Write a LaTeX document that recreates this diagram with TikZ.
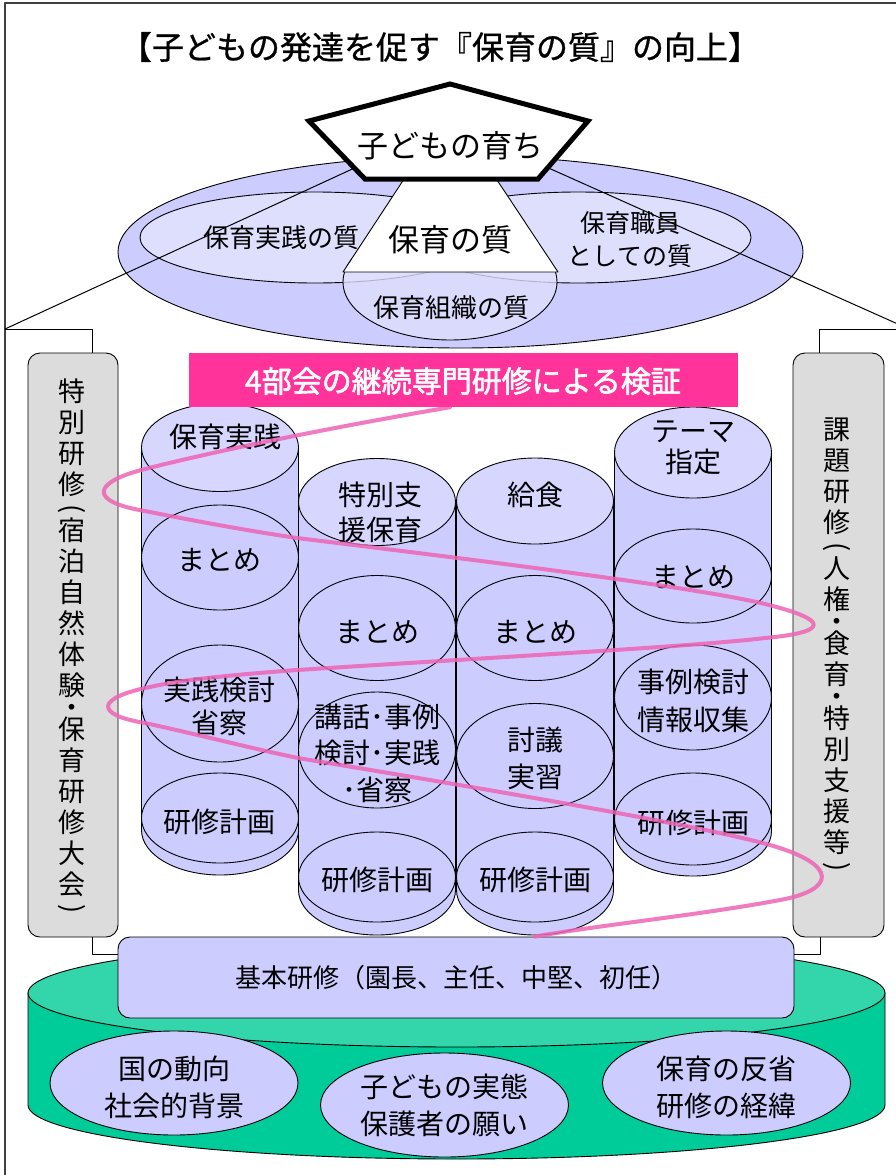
\documentclass[tikz,border=0pt]{standalone}
\usepackage{fontspec}
\usepackage{graphicx}
\setmainfont{Noto Sans CJK JP}
\newfontfamily\jpbold{Noto Sans CJK JP}[FakeBold=2]
\newfontfamily\jpmed{Noto Sans CJK JP}[FakeBold=0.8]
\usetikzlibrary{shapes.geometric}
\definecolor{lav}{HTML}{CCCCFF}
\definecolor{lavtop}{HTML}{D6D6FF}
\definecolor{lavlight}{HTML}{DEDEFD}
\definecolor{sidegray}{HTML}{DCDCDC}
\definecolor{greentop}{HTML}{33D6AA}
\definecolor{greenside}{HTML}{00CC99}
\definecolor{bandpink}{HTML}{FF3399}
\definecolor{linepink}{HTML}{EE64B4}
\newcommand\cylbody[3]{\path[outl,fill=lav] ({#1-78.5},#2) -- ({#1-78.5},#3) arc[start angle=180,end angle=360,x radius=78.5pt,y radius=45pt] -- ({#1+78.5},#2) -- cycle;}
\newcommand\vop{\rotatebox[origin=c]{-90}{(}}
\newcommand\vcl{\rotatebox[origin=c]{-90}{)}}
\begin{document}
\begin{tikzpicture}[x=1pt,y=-1pt,line join=round,
  outl/.style={draw=black,line width=0.9pt},
  ell/.style={ellipse,inner sep=0pt,outl},
  cyltop/.style={ell,fill=lavtop,minimum width=157pt},
  cylin/.style={ell,fill=lav,minimum width=157pt},
  ctext/.style={inner sep=0pt,align=center,font=\fontsize{28}{35}\selectfont},
  sidebox/.style={outl,fill=sidegray,rounded corners=12pt,inner sep=0pt,minimum height=584pt},
  conn/.style={draw=black,line width=1pt},
  vtext/.style={inner sep=0pt,align=center,font=\fontsize{27}{31}\selectfont},
  spiral/.style={draw=linepink,line width=4pt,line cap=round,draw opacity=0.85},
  ttext/.style={inner sep=0pt,align=center}
]
\useasboundingbox (0,0) rectangle (896,1175);
\fill[white] (0,0) rectangle (896,1175);
\draw[line width=1.2pt,black!75] (5,1180) -- (5,3) -- (900,3);

% title
\node[ttext,font=\jpmed\fontsize{32}{32}\selectfont] (title) at (440,47) {【子どもの発達を促す『保育の質』の向上】};

% quality ellipses
\node[ell,fill=lav,minimum width=685pt,minimum height=192pt] (outer) at (460.5,252) {};
\node[ell,fill=lavlight,minimum width=350pt,minimum height=91pt] (pract) at (315,237.5) {};
\node[ell,fill=lavlight,minimum width=346pt,minimum height=91pt] (staff) at (578,237.5) {};
\node[ell,fill=lavlight,fill opacity=0.8,minimum width=214pt,minimum height=116pt] (org) at (450,282) {};
\node[ttext,font=\fontsize{26}{26}\selectfont] (practt) at (281,238) {保育実践の質};
\node[ttext,font=\fontsize{25}{33}\selectfont] (stafft) at (630,240) {保育職員\\としての質};
\node[ttext,font=\fontsize{26}{26}\selectfont] (orgt) at (451,308) {保育組織の質};

% connector lines from the pentagon
\coordinate (pc) at (450,124);
\coordinate (lc) at (5,329);
\coordinate (rc) at (909,329);
\draw[conn] (pc) -- (lc);
\draw[conn] (pc) -- (rc);

% triangle and pentagon
\draw[outl,fill=white] (450,109) -- (558,272) -- (343,272) -- cycle;
\node[ttext,font=\fontsize{31}{31}\selectfont] (qual) at (450,240) {保育の質};
\draw[line width=5pt,fill=white,line join=miter] (450,84) -- (588,121) -- (538,179) -- (365,179) -- (309,121) -- cycle;
\node[ttext,font=\fontsize{31}{31}\selectfont] (child) at (450,146) {子どもの育ち};

% green base
\path[outl,fill=greenside] (28,993) -- (28,1105) arc[start angle=180,end angle=360,x radius=428.5pt,y radius=54pt] -- (885,993) -- cycle;
\node[ell,fill=greentop,minimum width=857pt,minimum height=108pt] (gtop) at (456.5,993) {};
\node[ell,fill=lav,minimum width=248pt,minimum height=104pt] (g1) at (174,1083) {};
\node[ell,fill=lav,minimum width=248pt,minimum height=104pt] (g2) at (444.5,1105) {};
\node[ell,fill=lav,minimum width=248pt,minimum height=104pt] (g3) at (726.5,1083) {};
\node[ctext,font=\fontsize{28}{37}\selectfont] (g1t) at (174,1087) {国の動向\\社会的背景};
\node[ctext,font=\fontsize{28}{37}\selectfont] (g2t) at (444.5,1105) {子どもの実態\\保護者の願い};
\node[ctext,font=\fontsize{28}{37}\selectfont] (g3t) at (726.5,1087) {保育の反省\\研修の経緯};

% base box
\node[outl,fill=lav,rounded corners=12pt,minimum width=676pt,minimum height=81pt,inner sep=0pt,font=\fontsize{26}{26}\selectfont] (bbox) at (456,977.5) {基本研修（園長、主任、中堅、初任）};

% side boxes
\node[sidebox,minimum width=90pt] (lbox) at (73,645) {};
\node[sidebox,minimum width=91pt] (rbox) at (838.5,645) {};
\draw[conn] (lc) -| ([xshift=19pt]lbox.north);
\draw[conn] (rc) -| ([xshift=-19pt]rbox.north);
\draw[conn] ([xshift=19pt]lbox.south) |- ([yshift=23.5pt]bbox.west);
\draw[conn] ([xshift=-18.5pt]rbox.south) |- ([yshift=23.5pt]bbox.east);
\node[vtext] (ltext) at (71.5,648) {特\\別\\研\\修\\[-8pt]\vop\\[-8pt]宿\\泊\\自\\然\\体\\験\\[-9pt]・\\[-9pt]保\\育\\研\\修\\大\\会\\[-8pt]\vcl};
\node[vtext] (rtext) at (837,647) {課\\題\\研\\修\\[-8pt]\vop\\[-8pt]人\\権\\[-9pt]・\\[-9pt]食\\育\\[-9pt]・\\[-9pt]特\\別\\支\\援\\等\\[-8pt]\vcl};

% cylinders
\cylbody{220}{447.5}{830}
\node[cyltop,minimum height=88pt] (c1a) at (220,447.5) {};
\node[cylin,minimum height=105pt] (c1b) at (220,557.5) {};
\node[cylin,minimum height=117pt] (c1c) at (220,703.5) {};
\node[cylin,minimum height=90pt] (c1d) at (220,818) {};
\node[ctext] (c1at) at (225,437) {保育実践};
\node[ctext] (c1bt) at (219,560) {まとめ};
\node[ctext,font=\fontsize{28}{33}\selectfont] (c1ct) at (219,706) {実践検討\\省察};
\node[ctext] (c1dt) at (219,822) {研修計画};

\cylbody{377}{502}{890}
\node[cyltop,minimum height=87pt] (c2a) at (377,502) {};
\node[cylin,minimum height=105pt] (c2b) at (377,628) {};
\node[cylin,minimum height=116pt] (c2c) at (377,750) {};
\node[cylin,minimum height=90pt] (c2d) at (377,877) {};
\node[ctext] (c2at) at (380,512) {特別支\\援保育};
\node[ctext] (c2bt) at (377,632) {まとめ};
\node[ctext,font=\fontsize{28}{36.5}\selectfont] (c2ct) at (377,753) {講話･事例\\検討･実践\\･省察};
\node[ctext] (c2dt) at (377,880) {研修計画};

\cylbody{535}{501}{890}
\node[cyltop,minimum height=86pt] (c3a) at (535,501) {};
\node[cylin,minimum height=105pt] (c3b) at (535,628) {};
\node[cylin,minimum height=105pt] (c3c) at (535,756) {};
\node[cylin,minimum height=90pt] (c3d) at (535,877) {};
\node[ctext] (c3at) at (535,495) {給食};
\node[ctext] (c3bt) at (535,632) {まとめ};
\node[ctext,font=\fontsize{28}{37}\selectfont] (c3ct) at (535,758) {討議\\実習};
\node[ctext] (c3dt) at (535,880) {研修計画};

\cylbody{693}{452.5}{831}
\node[cyltop,minimum height=91pt] (c4a) at (693,452.5) {};
\node[cylin,minimum height=94pt] (c4b) at (693,576) {};
\node[cylin,minimum height=105pt] (c4c) at (693,697.5) {};
\node[cylin,minimum height=92pt] (c4d) at (693,819) {};
\node[ctext,font=\fontsize{28}{31}\selectfont] (c4at) at (693,448) {テーマ\\指定};
\node[ctext] (c4bt) at (693,577) {まとめ};
\node[ctext,font=\fontsize{28}{38}\selectfont] (c4ct) at (693,701) {事例検討\\情報収集};
\node[ctext] (c4dt) at (693,823) {研修計画};

% band node
\path (463.5,380) node[minimum width=549pt,minimum height=54pt,inner sep=0pt] (band) {};

% spiral
\draw[spiral] ([xshift=-13.5pt]band.south)
  .. controls (300,433) and (200,455) .. (145,469)
  .. controls (90,483) and (90,502) .. (145,511)
  .. controls (200,522) and (250,531) .. (297,538)
  .. controls (500,563) and (700,588) .. (765,604)
  .. controls (830,620) and (830,632) .. (765,638)
  .. controls (700,646) and (500,657) .. (297,670)
  .. controls (230,675) and (180,680) .. (150,687)
  .. controls (95,698) and (95,715) .. (145,723)
  .. controls (200,735) and (250,748) .. (298,758)
  .. controls (450,783) and (700,825) .. (770,845)
  .. controls (840,865) and (835,890) .. (780,900)
  .. controls (700,915) and (600,925) .. ([xshift=79pt]bbox.north);

% band
\fill[bandpink] (band.north west) rectangle (band.south east);
\node[ttext,text=white,font=\jpbold\fontsize{30}{30}\selectfont] (bandt) at (463,381) {4部会の継続専門研修による検証};
\end{tikzpicture}
\end{document}
